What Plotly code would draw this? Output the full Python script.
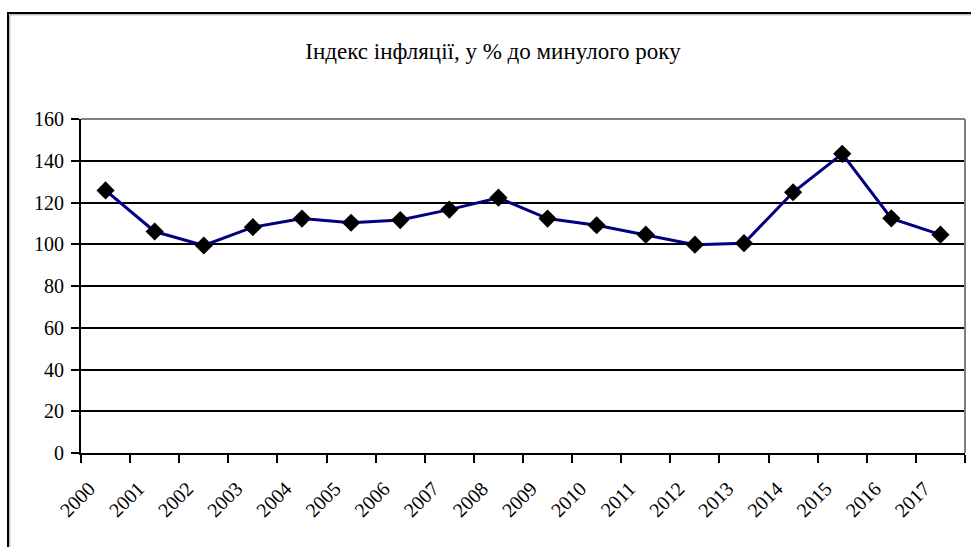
import plotly.graph_objects as go

years = ["2000", "2001", "2002", "2003", "2004", "2005", "2006", "2007", "2008",
         "2009", "2010", "2011", "2012", "2013", "2014", "2015", "2016", "2017"]
inflation = [125.8, 106.1, 99.4, 108.2, 112.3, 110.3, 111.6, 116.6, 122.3,
             112.3, 109.1, 104.6, 99.8, 100.5, 124.9, 143.3, 112.4, 104.6]
y_ticks = [0, 20, 40, 60, 80, 100, 120, 140, 160]
title_text = "Індекс інфляції, у % до минулого року"

idx = list(range(len(years)))
label_pos = [i - 0.33 for i in idx]

FONT = "Liberation Serif"

fig = go.Figure()
fig.add_trace(go.Scatter(
    x=idx, y=inflation, mode="lines+markers",
    line=dict(color="#000080", width=3),
    marker=dict(symbol="diamond", size=14, color="black", line=dict(width=0)),
    showlegend=False, hoverinfo="skip", cliponaxis=False,
))

W, H = 971, 547
L, R, T, B = 81, 6, 119, 94
pw, ph = W - L - R, H - T - B

def px2paper_x(x):
    return (x - L) / pw

def px2paper_y(y):
    return (H - B - y) / ph

fig.update_layout(
    width=W, height=H,
    margin=dict(l=L, r=R, t=T, b=B, pad=0),
    paper_bgcolor="white", plot_bgcolor="white",
    font=dict(family=FONT, color="black", size=20),
    title=dict(text=title_text, x=493 / W, xanchor="center",
               y=1 - 51 / H, yanchor="middle",
               font=dict(family=FONT, size=23, color="black")),
    xaxis=dict(
        range=[-0.5, len(years) - 0.5],
        tickmode="array", tickvals=label_pos, ticktext=years,
        ticks="", tickangle=-45, showgrid=False, zeroline=False,
        showline=True, linecolor="black", linewidth=2,
        tickfont=dict(family=FONT, size=20, color="black"),
        ticklabelstandoff=14,
        minor=dict(tickmode="linear", tick0=-0.5, dtick=1, ticks="outside",
                   ticklen=8, tickwidth=2, tickcolor="black", showgrid=False),
        fixedrange=True,
    ),
    yaxis=dict(
        range=[0, 160], tickmode="array", tickvals=y_ticks,
        ticks="outside", ticklen=8, tickwidth=2, tickcolor="black",
        showgrid=True, gridcolor="black", gridwidth=2,
        zeroline=False, showline=True, linecolor="black", linewidth=2,
        tickfont=dict(family=FONT, size=20, color="black"),
        ticklabelstandoff=3,
        fixedrange=True,
    ),
    shapes=[
        dict(type="line", xref="paper", yref="paper", x0=0, x1=1, y0=1, y1=1,
             line=dict(color="#808080", width=2), layer="above"),
        dict(type="line", xref="paper", yref="paper", x0=1, x1=1, y0=0, y1=1,
             line=dict(color="#808080", width=2), layer="above"),
        dict(type="rect", xref="paper", yref="paper",
             x0=px2paper_x(8), x1=px2paper_x(990), y0=px2paper_y(13), y1=px2paper_y(600),
             line=dict(color="black", width=2), layer="above"),
        dict(type="rect", xref="paper", yref="paper",
             x0=px2paper_x(9.8), x1=px2paper_x(990), y0=px2paper_y(14.8), y1=px2paper_y(600),
             line=dict(color="#a0a0a0", width=1), layer="above"),
    ],
)

fig.write_html(
    "out.html",
    config={"displayModeBar": False, "staticPlot": True},
    post_script="document.body.style.margin='0';document.body.style.overflow='hidden';",
)
